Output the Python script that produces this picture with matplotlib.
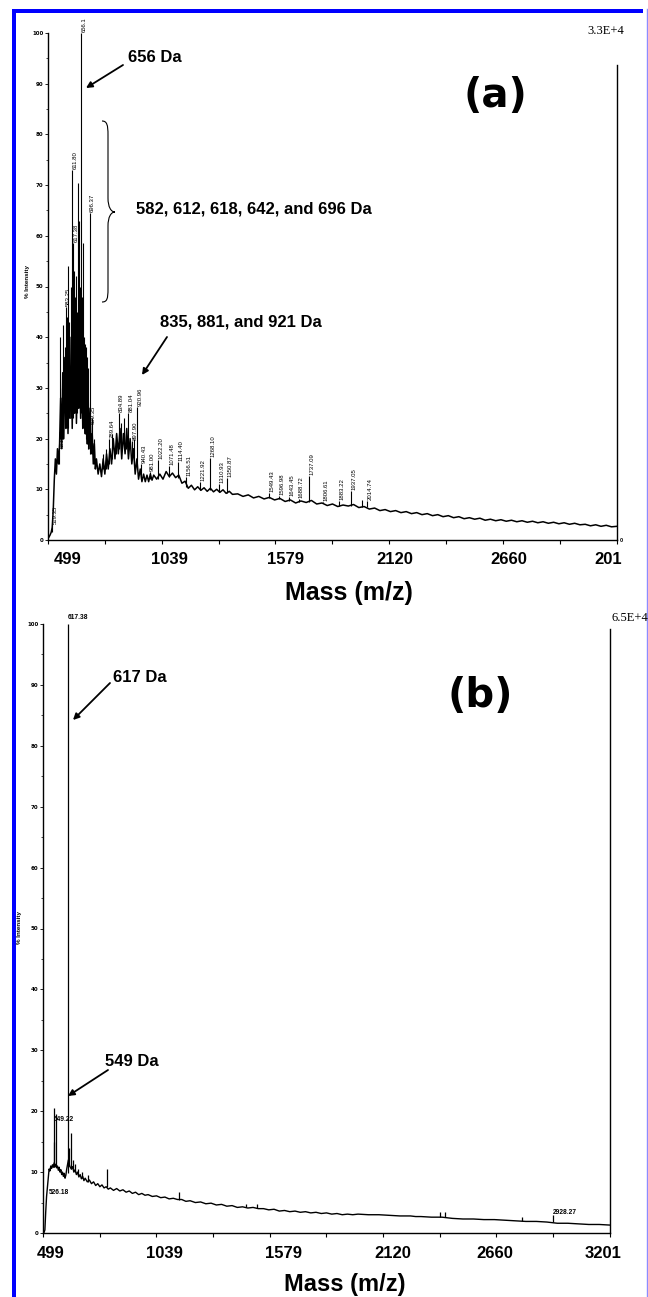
import numpy as np
import matplotlib
matplotlib.use("Agg")
import matplotlib.pyplot as plt
from matplotlib.transforms import Affine2D, blended_transform_factory, offset_copy
from matplotlib.path import Path
from matplotlib.patches import PathPatch, Rectangle, FancyArrowPatch
from matplotlib.lines import Line2D
from matplotlib.ticker import MultipleLocator

# ---------------- data ----------------
x_ticks = [499, 1039, 1579, 2120, 2660, 3201]
x_minor = [769, 1309, 1849, 2390, 2930]
a_xticklabels = ["499", "1039", "1579", "2120", "2660", "201"]
b_xticklabels = ["499", "1039", "1579", "2120", "2660", "3201"]
y_ticks = [0, 10, 20, 30, 40, 50, 60, 70, 80, 90, 100]

# panel (a): background trace
a_trace_mz = [499, 504, 509, 514, 519, 524, 529, 534, 539, 544, 549, 554, 559, 564, 569,
              574, 579, 584, 589, 594, 599, 604, 609, 614, 619, 624, 629, 634, 639, 644,
              649, 654, 659, 664, 669, 674, 679, 684, 689, 694, 699, 704, 709, 714, 719,
              724, 729, 737, 745, 753, 761, 769, 777, 785, 793, 801, 809, 817, 825, 833,
              841, 849, 857, 865, 873, 881, 889, 897, 905, 913, 921, 929, 937, 945, 953,
              961, 969, 977, 985, 993, 1001, 1015, 1030, 1045, 1060, 1075, 1090, 1105, 1120,
              1135, 1150, 1165, 1180, 1195, 1210, 1225, 1240, 1255, 1270, 1285, 1300, 1315,
              1330, 1345, 1360, 1375, 1400, 1425, 1450, 1475, 1500, 1525, 1550, 1575, 1600,
              1625, 1650, 1675, 1700, 1725, 1750, 1775, 1800, 1825, 1850, 1875, 1900, 1925,
              1950, 1975, 2000, 2025, 2050, 2075, 2100, 2125, 2150, 2175, 2200, 2225, 2250,
              2275, 2300, 2325, 2350, 2375, 2400, 2425, 2450, 2475, 2500, 2525, 2550, 2575,
              2600, 2625, 2650, 2675, 2700, 2725, 2750, 2775, 2800, 2825, 2850, 2875, 2900,
              2925, 2950, 2975, 3000, 3025, 3050, 3075, 3100, 3125, 3150, 3175, 3201]
a_trace_int = [0.3, 0.6, 1.0, 1.5, 2.5, 6, 12, 16, 13, 18, 15, 19, 28, 18, 33,
               20, 36, 22, 38, 21, 35, 24, 40, 22, 38, 25, 42, 23, 37, 26,
               40, 24, 38, 22, 35, 21, 33, 19, 30, 18, 26, 17, 21, 15, 19,
               14, 16, 13, 15, 12.5, 16, 13, 17, 14, 18, 15, 20, 16, 21, 17,
               22, 16, 21, 17, 22, 16, 20, 15, 18, 13, 16, 12, 14, 11.5, 13,
               11.5, 12.8, 11.5, 13, 11.8, 12.8, 12, 13, 12, 13.5, 12.5, 13.2, 12.3, 12.8,
               11.2, 11.6, 10.2, 10.8, 9.9, 10.5, 9.8, 10.3, 9.6, 10.2, 9.5, 10.0, 9.4,
               9.9, 9.2, 9.6, 9.0, 9.1, 8.6, 8.9, 8.3, 8.6, 8.1, 8.4, 7.9, 8.2,
               7.6, 7.9, 7.3, 7.7, 7.4, 7.8, 7.1, 7.3, 6.8, 7.1, 6.6, 6.9, 6.7,
               7.0, 6.4, 6.6, 6.1, 6.3, 5.8, 6.0, 5.6, 5.8, 5.4, 5.6, 5.2, 5.4,
               5.0, 5.2, 4.8, 5.0, 4.6, 4.8, 4.4, 4.6, 4.2, 4.4, 4.1, 4.3, 3.9,
               4.1, 3.8, 4.0, 3.7, 3.9, 3.6, 3.8, 3.5, 3.7, 3.4, 3.6, 3.3, 3.5,
               3.2, 3.4, 3.1, 3.3, 3.0, 3.1, 2.8, 3.0, 2.7, 2.9, 2.6, 2.7]

# panel (a): peaks
a_peak_mz = [519.35, 551.58, 558, 566, 572, 578, 583.25, 588, 595, 601, 606, 611.80,
             617.38, 622, 627, 632, 637, 642, 647, 651, 656.1, 661, 666, 671, 676, 681,
             686, 691, 696.37, 699.35, 707, 716, 760, 775, 789.64, 805, 820, 834.89, 848,
             858, 868, 881.04, 897.90, 908, 920.96, 940.43, 981.00, 1022.20, 1071.48,
             1114.40, 1156.51, 1221.92, 1268.10, 1310.93, 1350.87, 1549.43, 1596.98,
             1643.45, 1688.72, 1737.09, 1806.61, 1883.22, 1937.05, 1990, 2014.74]
a_peak_top = [3, 18, 40, 30, 42.5, 38, 46, 44, 54, 43, 50, 73,
              58.5, 53, 48, 52, 45, 70.4, 63, 50, 100, 48, 58.5, 40, 38.7, 38,
              36, 34, 64.5, 22.6, 24, 20, 17, 18, 20, 21, 21, 25, 23,
              24, 20, 25, 19.5, 20, 26.2, 15, 13.5, 15.8, 14.5,
              15.4, 12.5, 11.5, 16.2, 11, 12.2, 9.3, 8.6,
              8.5, 8.0, 12.6, 7.4, 7.6, 9.6, 7.8, 7.6]
a_peak_foot = [1.5, 15, 20, 20, 20, 22, 22, 22, 22, 24, 24, 24,
               24, 25, 25, 24, 25, 26, 26, 25, 25, 24, 22, 22, 21, 20,
               19, 18, 18, 17, 17, 15, 14, 14, 15, 16, 17, 18, 18,
               18, 18, 17, 16, 15, 14, 12, 12, 12, 12.5,
               12.2, 10.5, 9.8, 9.8, 9.4, 9.2, 8.2, 8.0,
               7.7, 7.4, 7.5, 7.2, 6.7, 6.8, 6.5, 6.5]
a_label_text = ["519.35", "551.58", "583.25", "611.80", "617.38", "656.1", "696.37",
                "699.35", "789.64", "834.89", "881.04", "897.90", "920.96", "940.43",
                "981.00", "1022.20", "1071.48", "1114.40", "1156.51", "1221.92", "1268.10",
                "1310.93", "1350.87", "1549.43", "1596.98", "1643.45", "1688.72", "1737.09",
                "1806.61", "1883.22", "1937.05", "2014.74"]

# panel (b): background trace
b_trace_mz = [499, 504, 508, 512, 516, 520, 524, 528, 532, 536, 540, 544, 548, 552, 556,
              560, 564, 568, 572, 576, 580, 584, 588, 592, 596, 600, 604, 608, 612, 620,
              626, 634, 640, 646, 652, 658, 664, 670, 676, 682, 688, 694, 700, 710, 720,
              730, 740, 750, 760, 770, 780, 790, 800, 810, 820, 835, 850, 865, 880, 895,
              910, 925, 940, 955, 970, 985, 1000, 1020, 1040, 1060, 1080, 1100, 1120, 1140,
              1160, 1180, 1200, 1225, 1250, 1275, 1300, 1325, 1350, 1375, 1400, 1425, 1450,
              1475, 1500, 1525, 1550, 1575, 1600, 1625, 1650, 1675, 1700, 1725, 1750, 1775,
              1800, 1825, 1850, 1875, 1900, 1925, 1950, 1975, 2000, 2050, 2100, 2150, 2200,
              2250, 2275, 2300, 2350, 2375, 2400, 2425, 2450, 2500, 2550, 2600, 2650, 2700,
              2750, 2800, 2850, 2900, 2950, 3000, 3050, 3100, 3150, 3201]
b_trace_int = [0.0, 0.1, 0.5, 3.5, 6.0, 7.5, 9.0, 10.5, 10.2, 11.0, 10.6, 11.2, 10.8, 11.5, 10.9,
               11.3, 10.7, 11.0, 10.3, 10.8, 10.0, 10.4, 9.6, 10.0, 9.3, 9.8, 9.0, 9.5, 10.5, 12.0,
               11.0, 10.5, 10.9, 10.0, 10.4, 9.6, 10.0, 9.2, 9.6, 8.9, 9.3, 8.6, 9.0, 8.4, 8.7,
               8.1, 8.4, 7.8, 8.1, 7.6, 7.9, 7.4, 7.6, 7.2, 7.4, 7.0, 7.3, 6.9, 7.1, 6.7,
               6.9, 6.5, 6.7, 6.3, 6.5, 6.2, 6.3, 6.0, 6.1, 5.8, 5.9, 5.6, 5.7, 5.5,
               5.5, 5.2, 5.3, 5.0, 5.1, 4.8, 4.9, 4.6, 4.7, 4.4, 4.5, 4.2, 4.3,
               4.1, 4.2, 4.0, 4.0, 3.8, 3.9, 3.6, 3.7, 3.5, 3.6, 3.4, 3.5, 3.3,
               3.4, 3.2, 3.3, 3.1, 3.2, 3.0, 3.1, 3.0, 3.1, 3.0, 3.0, 2.9, 2.8,
               2.8, 2.7, 2.7, 2.6, 2.6, 2.6, 2.5, 2.4, 2.3, 2.3, 2.2, 2.2, 2.1,
               2.0, 1.9, 1.9, 1.8, 1.6, 1.6, 1.5, 1.4, 1.4, 1.3]

# panel (b): peaks
b_peak_mz = [549.22, 553, 560, 617.38, 622, 631, 640, 651, 667, 686, 712, 802,
             1148, 1465, 1517, 2389, 2417, 2780, 2928.27]
b_peak_top = [20.5, 15, 19.5, 100, 14, 16.5, 12, 11.3, 10.5, 10.0, 9.5, 10.5,
              6.8, 4.8, 4.7, 3.4, 3.4, 2.6, 2.9]
b_peak_foot = [10.8, 10.8, 10.9, 9.8, 11, 10.5, 10.5, 10.0, 9.5, 9.0, 8.4, 7.5,
               5.5, 4.2, 4.1, 2.6, 2.6, 2.0, 1.8]
b_label_text = ["526.18", "549.22", "617.38", "2928.27"]
b_label_mz = [526.18, 549.22, 617.38, 2928.27]
b_label_y = [6.7, 18.7, 101.0, 3.4]

# ---------------- figure ----------------
W, H = 648, 1297
fig = plt.figure(figsize=(6.48, 12.97), dpi=100)
fig.patch.set_facecolor("white")
PX = Affine2D().scale(1 / W, -1 / H).translate(0, 1) + fig.transFigure
SANS = ["Liberation Sans", "DejaVu Sans"]


def make_ax(l, t, r, b):
    return fig.add_axes([l / W, 1 - b / H, (r - l) / W, (b - t) / H])


axA = make_ax(48, 33, 617, 540)
axB = make_ax(43, 624, 610, 1233)


def style(ax, right_top, labels, offsets):
    ax.set_xlim(x_ticks[0], x_ticks[-1])
    ax.set_ylim(0, 100)
    ax.patch.set_alpha(0)
    ax.spines["top"].set_visible(False)
    ax.spines["right"].set_bounds(0, right_top)
    for s in ax.spines.values():
        s.set_linewidth(1.0)
    ax.set_xticks(x_ticks)
    ax.set_xticklabels([])
    ax.set_xticks(x_minor, minor=True)
    ax.tick_params(axis="x", which="both", direction="out", length=3, width=0.8)
    ax.set_yticks(y_ticks)
    ax.yaxis.set_minor_locator(MultipleLocator(5))
    ax.tick_params(axis="y", which="major", direction="out", length=2.5, width=0.6,
                   labelsize=4, pad=0.8)
    ax.tick_params(axis="y", which="minor", direction="out", length=1.2, width=0.5)
    for t in ax.get_yticklabels():
        t.set_fontweight("bold")
    blend = blended_transform_factory(ax.transData, ax.transAxes)
    for v, lab, dx in zip(x_ticks, labels, offsets):
        tr = offset_copy(blend, fig=fig, x=dx, y=-20, units="dots")
        ax.text(v, 0, lab, transform=tr, ha="center", va="center", fontsize=12,
                fontweight="bold", family=SANS, clip_on=False)


style(axA, 93.7, a_xticklabels, [20, 8, 10, 5, 6, -9])
style(axB, 99.2, b_xticklabels, [8, 8, 14, 10, -2, -7])

# spectra
axA.plot(a_trace_mz, a_trace_int, color="k", lw=1.1)
axA.vlines(a_peak_mz, a_peak_foot, a_peak_top, color="k", lw=0.8)
labtr = offset_copy(axA.transData, fig=fig, x=0.5, y=1, units="dots")
for txt in a_label_text:
    i = [f"{m:.2f}".rstrip("0").rstrip(".") for m in a_peak_mz].index(txt.rstrip("0").rstrip("."))
    axA.text(a_peak_mz[i], a_peak_top[i], txt, rotation=90, ha="left", va="bottom",
             fontsize=4.3, transform=labtr, family=SANS, clip_on=False)

axB.plot(b_trace_mz, b_trace_int, color="k", lw=1.0)
axB.vlines(b_peak_mz, b_peak_foot, b_peak_top, color="k", lw=0.9)
for txt, m, y in zip(b_label_text, b_label_mz, b_label_y):
    axB.text(m, y, txt, ha="left", va="center", fontsize=4.8, fontweight="bold",
             family=SANS, clip_on=False)

# y-axis labels
fig.text(27, 282, "% Intensity", rotation=90, transform=PX, fontsize=4.5,
         fontweight="bold", ha="center", va="center", family=SANS)
fig.text(20, 928, "% Intensity", rotation=90, transform=PX, fontsize=4.5,
         fontweight="bold", ha="center", va="center", family=SANS)
fig.text(620, 540, "0", transform=PX, fontsize=4, fontweight="bold", ha="left",
         va="center", family=SANS)

# axis titles
fig.text(349, 593, "Mass (m/z)", transform=PX, fontsize=18, fontweight="bold",
         ha="center", va="center", family=SANS)
fig.text(345, 1284, "Mass (m/z)", transform=PX, fontsize=17, fontweight="bold",
         ha="center", va="center", family=SANS)

# scale factors
fig.text(587, 31, "3.3E+4", transform=PX, fontsize=9, ha="left", va="center",
         family=["Liberation Serif", "DejaVu Serif"])
fig.text(612, 618, "6.5E+4", transform=PX, fontsize=9, ha="left", va="center",
         family=["Liberation Serif", "DejaVu Serif"])

# panel tags
fig.text(495, 96, "(a)", transform=PX, fontsize=29, fontweight="bold", ha="center",
         va="center", family="DejaVu Sans")
fig.text(480, 696, "(b)", transform=PX, fontsize=29, fontweight="bold", ha="center",
         va="center", family="DejaVu Sans")

# annotations
ann = dict(transform=PX, fontsize=12, fontweight="bold", ha="left", va="center", family=SANS)
fig.text(128, 57, "656 Da", **ann)
fig.text(136, 209, "582, 612, 618, 642, and 696 Da", **ann)
fig.text(160, 322, "835, 881, and 921 Da", **ann)
fig.text(113, 677, "617 Da", **ann)
fig.text(105, 1062, "549 Da", **ann)


def arrow(p0, p1):
    fig.add_artist(FancyArrowPatch(p0, p1, transform=PX, arrowstyle="-|>",
                                   mutation_scale=9, lw=1.3, color="k",
                                   shrinkA=0, shrinkB=0))


arrow((123, 65), (86, 88))
arrow((167, 337), (142, 375))
arrow((110, 683), (73, 720))
arrow((108, 1070), (68, 1096))

# curly brace
verts = [(102, 121), (107, 121), (108, 125), (108, 135),
         (108, 198),
         (108, 207), (111, 212), (115, 212),
         (111, 212), (108, 217), (108, 226),
         (108, 289),
         (108, 299), (107, 302), (102, 302)]
codes = [Path.MOVETO, Path.CURVE4, Path.CURVE4, Path.CURVE4,
         Path.LINETO,
         Path.CURVE4, Path.CURVE4, Path.CURVE4,
         Path.CURVE4, Path.CURVE4, Path.CURVE4,
         Path.LINETO,
         Path.CURVE4, Path.CURVE4, Path.CURVE4]
fig.add_artist(PathPatch(Path(verts, codes), transform=PX, fill=False, lw=0.8, color="k"))

# blue frame
fig.add_artist(Rectangle((12, 9), 4, H - 9, transform=PX, color="#0000ff", lw=0))
fig.add_artist(Rectangle((12, 9), 631, 4, transform=PX, color="#0000ff", lw=0))
fig.add_artist(Line2D([646.5, 646.5], [9, H], transform=PX, color="#8c8cff", lw=1))

fig.savefig("out.png", dpi=100)
